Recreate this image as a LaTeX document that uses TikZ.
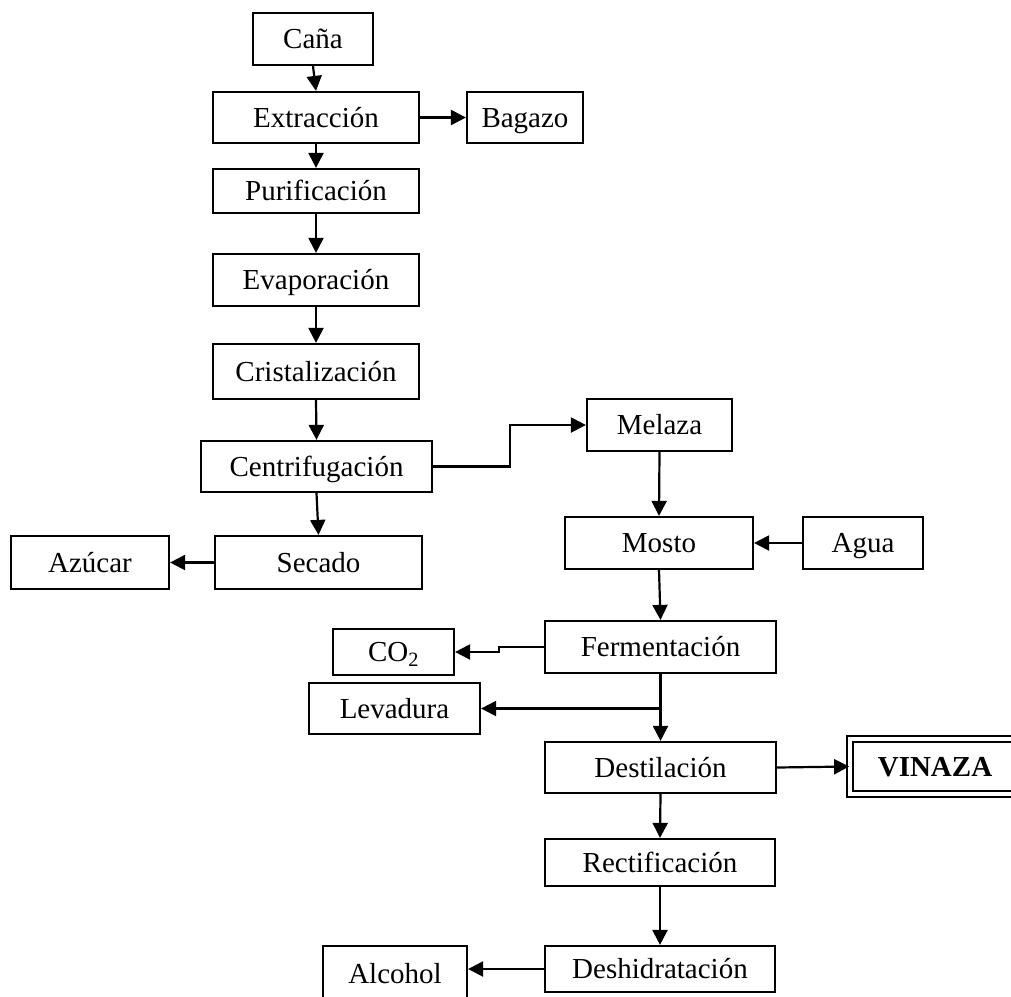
\documentclass[tikz,border=0pt]{standalone}
\usepackage{fontspec}
\setmainfont{Liberation Serif}
\usetikzlibrary{arrows.meta}
\begin{document}
\begin{tikzpicture}[x=1pt,y=-1pt,
  box/.style={draw, line width=2.2pt, inner sep=0pt, align=center,
    text height=21pt, text depth=2pt,
    font=\fontsize{29pt}{34pt}\selectfont},
  arr/.style={line width=2.2pt, -{Triangle[length=15pt,width=15pt]}}]
\useasboundingbox (0,0) rectangle (1011,996);
\node[box, minimum width=120pt, minimum height=52pt] (cana) at (313,39) {Caña};
\node[box, minimum width=206pt, minimum height=51pt] (extr) at (316,117.5) {Extracción};
\node[box, minimum width=116pt, minimum height=51pt] (baga) at (525,117.5) {Bagazo};
\node[box, minimum width=206pt, minimum height=44pt] (puri) at (316,191) {Purificación};
\node[box, minimum width=206pt, minimum height=52pt] (evap) at (316,280) {Evaporación};
\node[box, minimum width=206pt, minimum height=55pt] (cris) at (316,371.5) {Cristalización};
\node[box, minimum width=231pt, minimum height=51pt] (cent) at (316.5,466.5) {Centrifugación};
\node[box, minimum width=145pt, minimum height=52pt] (mela) at (659.5,425) {Melaza};
\node[box, minimum width=207pt, minimum height=53pt] (seca) at (318.5,562.5) {Secado};
\node[box, minimum width=158pt, minimum height=53pt] (azuc) at (90,562.5) {Azúcar};
\node[box, minimum width=188pt, minimum height=52pt] (most) at (659,543) {Mosto};
\node[box, minimum width=120pt, minimum height=52pt] (agua) at (863,543) {Agua};
\node[box, minimum width=231pt, minimum height=52pt] (ferm) at (660.5,647) {Fermentación};
\node[box, minimum width=121pt, minimum height=46pt] (co2) at (393.5,652) {CO\textsubscript{2}};
\node[box, minimum width=171pt, minimum height=51pt] (leva) at (394.5,708.5) {Levadura};
\node[box, minimum width=231pt, minimum height=51pt] (dest) at (660.5,767.5) {Destilación};
\node[box, minimum width=170pt, minimum height=55pt, line width=1.8pt, double, double distance=3.5pt,
  font=\fontsize{29pt}{34pt}\selectfont\bfseries] (vina) at (935,766.5) {VINAZA};
\node[box, minimum width=230pt, minimum height=47pt] (rect) at (660,862.5) {Rectificación};
\node[box, minimum width=230pt, minimum height=46pt] (desh) at (660,969) {Deshidratación};
\node[box, minimum width=144pt, minimum height=56pt] (alco) at (395,974) {Alcohol};
\coordinate (lv) at (ferm.south |- leva.east);
\draw[arr] (cana.south) -- (extr.north);
\draw[arr] (extr.east) -- (baga.west);
\draw[arr] (extr.south) -- (puri.north);
\draw[arr] (puri.south) -- (evap.north);
\draw[arr] (evap.south) -- (cris.north);
\draw[arr] (cris.south) -- (cent.north);
\draw[arr] (cent.east) -- ++(77,0) |- (mela.west);
\draw[arr] (cent.south) -- (seca.north);
\draw[arr] (seca.west) -- (azuc.east);
\draw[arr] (mela.south) -- (most.north);
\draw[arr] (agua.west) -- (most.east);
\draw[arr] (most.south) -- (ferm.north);
\draw[arr] (ferm.west) -- ++(-45,0) |- (co2.east);
\draw[arr] (ferm.south) -- (dest.north);
\draw[arr] (lv) -- (leva.east);
\draw[arr] (dest.east) -- (vina.west);
\draw[arr] (dest.south) -- (rect.north);
\draw[arr] (rect.south) -- (desh.north);
\draw[arr] (desh.west) -- (desh.west -| alco.east);
\end{tikzpicture}
\end{document}
